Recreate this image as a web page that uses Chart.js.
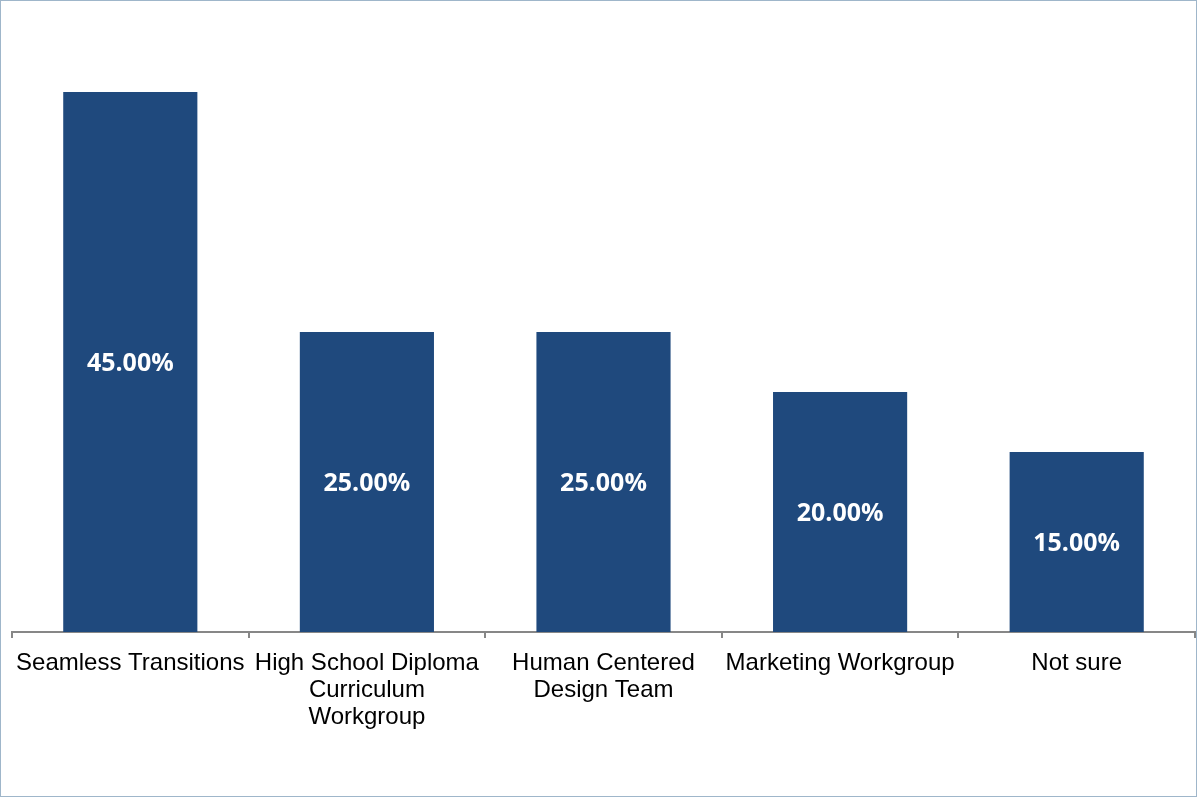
<!DOCTYPE html>
<html>
<head>
<meta charset="utf-8">
<script src="https://cdn.jsdelivr.net/npm/chart.js@4/dist/chart.umd.min.js"></script>
<style>
  html, body { margin: 0; padding: 0; background: #fff; }
  #frame {
    width: 1197px; height: 797px; box-sizing: border-box;
    border: 1px solid #9fb6ca; background: #fff;
  }
  #chart { display: block; }
</style>
</head>
<body>
<div id="frame"><canvas id="chart" width="1195" height="795"></canvas></div>
<script>
  "use strict";

  const groups = [
    "Seamless Transitions",
    ["High School Diploma", "Curriculum", "Workgroup"],
    ["Human Centered", "Design Team"],
    "Marketing Workgroup",
    "Not sure"
  ];
  const shares = [45, 25, 25, 20, 15];

  // prints the value in the middle of each bar
  const barValues = {
    id: "barValues",
    afterDatasetsDraw(chart) {
      const ctx = chart.ctx;
      const meta = chart.getDatasetMeta(0);
      ctx.save();
      ctx.fillStyle = "#ffffff";
      ctx.font = 'bold 25px "Open Sans"';
      ctx.textAlign = "center";
      ctx.textBaseline = "middle";
      meta.data.forEach(function (bar, i) {
        const mid = (bar.y + bar.base) / 2 + 2;
        ctx.fillText(shares[i].toFixed(2) + "%", bar.x, mid);
      });
      ctx.restore();
    }
  };

  new Chart(document.getElementById("chart"), {
    type: "bar",
    data: {
      labels: groups,
      datasets: [{
        data: shares,
        backgroundColor: "#1f497d",
        borderWidth: 0,
        categoryPercentage: 1,
        barPercentage: 0.567
      }]
    },
    options: {
      responsive: false,
      animation: false,
      layout: { padding: { left: 11, right: 1, top: 31, bottom: 53 } },
      plugins: { legend: { display: false }, tooltip: { enabled: false } },
      scales: {
        x: {
          offset: true,
          grid: { offset: true, drawOnChartArea: false, drawTicks: true, tickLength: 6, color: "#878787", lineWidth: 2 },
          border: { display: true, color: "#878787", width: 2 },
          ticks: {
            color: "#000000",
            padding: 12,
            maxRotation: 0,
            autoSkip: false,
            font: { family: '"Liberation Sans", Arial, sans-serif', size: 24, lineHeight: "27px" }
          }
        },
        y: { display: false, min: 0, max: 50 }
      }
    },
    plugins: [barValues]
  });
</script>
</body>
</html>
